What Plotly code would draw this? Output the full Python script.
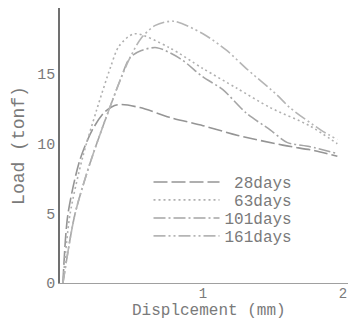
import plotly.graph_objects as go

# Displacement (mm) and Load (tonf)
disp_28 = [0, 0.035, 0.12, 0.21, 0.30, 0.39, 0.55, 0.76, 1.00, 1.25, 1.57, 1.80, 1.96]
load_28 = [0, 4.9, 8.8, 11.0, 12.3, 12.8, 12.6, 11.9, 11.3, 10.6, 9.9, 9.5, 9.1]

disp_63 = [0, 0.05, 0.14, 0.24, 0.34, 0.40, 0.51, 0.76, 1.00, 1.24, 1.48, 1.76, 1.96]
load_63 = [0, 4.9, 9.0, 12.4, 15.5, 17.0, 17.9, 16.9, 15.4, 14.0, 12.6, 11.3, 10.0]

disp_101 = [0, 0.085, 0.20, 0.41, 0.48, 0.56, 0.67, 0.84, 1.00, 1.14, 1.31, 1.48, 1.60, 1.76, 1.96]
load_101 = [0, 4.9, 8.8, 14.6, 16.2, 16.7, 16.9, 16.1, 14.8, 13.9, 12.2, 11.0, 10.1, 9.8, 9.3]

disp_161 = [0, 0.085, 0.20, 0.41, 0.48, 0.56, 0.66, 0.79, 1.00, 1.17, 1.31, 1.53, 1.62, 1.84, 1.96]
load_161 = [0, 4.9, 8.8, 14.6, 16.2, 17.6, 18.5, 18.8, 17.9, 16.7, 15.4, 13.5, 12.6, 11.0, 10.3]

names = ["\u00a028days", "\u00a063days", "101days", "161days"]
y_ticks = [0, 5, 10, 15]
x_ticks = [1, 2]

FONT = "Liberation Mono"
TXT = "#7a7a7a"

series = [
    (names[0], disp_28, load_28, "#959595", "14px,4px"),
    (names[1], disp_63, load_63, "#b0b0b0", "2px,3px"),
    (names[2], disp_101, load_101, "#a5a5a5", "12px,3px,2px,3px"),
    (names[3], disp_161, load_161, "#b5b5b5", "12px,3px,2px,3px,2px,3px"),
]
legend_ids = ["legend", "legend2", "legend3", "legend4"]
legend_rows = [0.367, 0.302, 0.236, 0.171]

fig = go.Figure()
for (name, xs, ys, col, dash), lid in zip(series, legend_ids):
    fig.add_trace(go.Scatter(
        x=xs, y=ys, name=name, mode="lines", legend=lid,
        line=dict(color=col, width=1.6, dash=dash, shape="spline", smoothing=0.8),
    ))

leg_common = dict(x=0.30, xanchor="left", yanchor="middle", bgcolor="rgba(0,0,0,0)",
                  itemwidth=66, font=dict(family=FONT, size=16, color=TXT))

# the page body adds an 8px offset, so the figure is sized 8px smaller
fig.update_layout(
    width=348, height=316,
    margin=dict(l=52, r=1, t=0, b=41),
    paper_bgcolor="white", plot_bgcolor="white",
    font=dict(family=FONT, size=15, color=TXT),
    showlegend=True,
    legend=dict(y=legend_rows[0], **leg_common),
    legend2=dict(y=legend_rows[1], **leg_common),
    legend3=dict(y=legend_rows[2], **leg_common),
    legend4=dict(y=legend_rows[3], **leg_common),
    xaxis=dict(range=[-0.021, 2.086], tickvals=x_ticks, ticktext=[str(v) for v in x_ticks],
               showgrid=False, zeroline=False, showline=True, linecolor="#a0a0a0",
               linewidth=1.2, ticks="", ticklen=0, ticklabelstandoff=-3,
               tickfont=dict(size=14), automargin=False),
    yaxis=dict(range=[0, 19.75], tickvals=y_ticks, ticktext=[str(v) for v in y_ticks],
               showgrid=False, zeroline=False, showline=True, linecolor="#707070",
               linewidth=1.5, ticks="", tickfont=dict(size=15), automargin=False,
               title=dict(text="Load (tonf)", standoff=8)),
    annotations=[dict(text="Displcement (mm)", xref="paper", yref="paper",
                      x=0.505, y=-0.102, xanchor="center", yanchor="middle",
                      showarrow=False, font=dict(family=FONT, size=16, color=TXT))],
)

fig.write_html("out.html")
